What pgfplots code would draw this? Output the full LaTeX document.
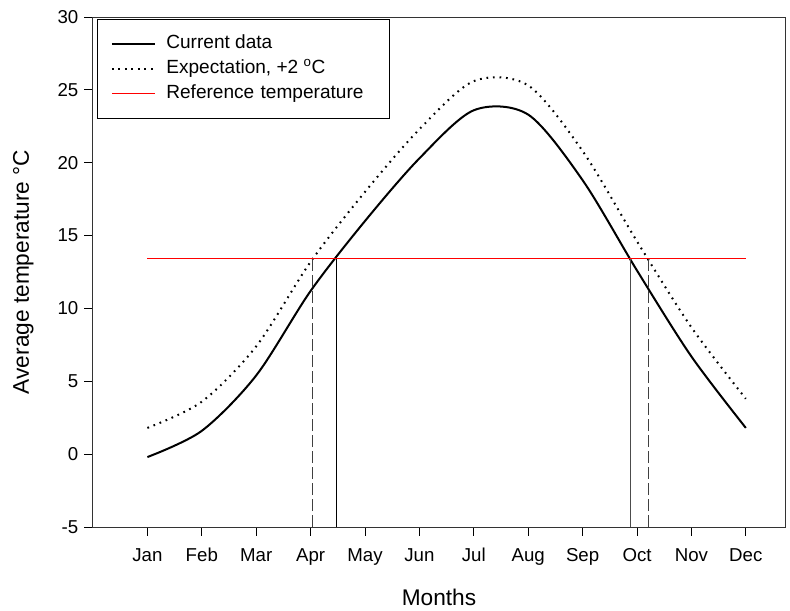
\documentclass[border=0pt]{standalone}
\usepackage{fontspec}
\setmainfont{Liberation Sans}
\usepackage{pgfplots}
\pgfplotsset{compat=1.18}
\usetikzlibrary{calc}
\begin{document}
\begin{tikzpicture}
\begin{axis}[
  name=ax,
  scale only axis,
  width=519pt, height=382.5pt,
  xmin=0, xmax=12.72,
  ymin=-5, ymax=30,
  xtick={1,2,3,4,5,6,7,8,9,10,11,12},
  xticklabels={Jan,Feb,Mar,Apr,May,Jun,Jul,Aug,Sep,Oct,Nov,Dec},
  ytick={-5,0,5,10,15,20,25,30},
  tick align=outside,
  tick pos=left,
  major tick length=6.5pt,
  tick style={black, line width=0.6pt},
  axis line style={line width=0.75pt, black!80},
  /pgf/number format/assume math mode=true,
  ticklabel style={font=\fontsize{14}{16}\selectfont},
  xticklabel style={yshift=-6pt},
  yticklabel style={xshift=-1pt},
  xlabel={Months},
  ylabel={Average temperature °C},
  label style={font=\fontsize{17}{19}\selectfont},
  xlabel style={yshift=-11pt},
  ylabel style={yshift=11pt},
  legend cell align=left,
  legend style={at={(rel axis cs:0,1)}, anchor=north west, xshift=3pt, yshift=-1.5pt,
    font=\fontsize{14.3}{16}\selectfont, draw=black, line width=0.75pt,
    inner xsep=10pt, inner ysep=11pt, row sep=3.5pt,
    nodes={inner sep=1pt, text height=10pt, text depth=3pt},
    /tikz/every odd column/.append style={column sep=7pt}},
  legend image code/.code={\draw[#1] (0cm,0cm) -- (1.13cm,0cm);},
]
\addplot[black, line width=1.5pt, smooth, tension=0.5] coordinates {
 (1,-0.2) (2,1.6) (3,5.4) (4,11.2) (5,16.0) (6,20.3) (7,23.6) (8,23.3) (9,18.8) (10,12.6) (11,6.7) (12,1.8)};
\addlegendentry{Current data}
\addplot[black, line width=1.5pt, smooth, tension=0.5, dash pattern=on 1.3pt off 3.6pt] coordinates {
 (1,1.8) (2,3.6) (3,7.4) (4,13.2) (5,18.0) (6,22.3) (7,25.6) (8,25.3) (9,20.8) (10,14.6) (11,8.7) (12,3.8)};
\addlegendentry{Expectation, +2 \textsuperscript{o}C}
\addplot[red, line width=0.9pt] coordinates {(1,13.4) (12,13.4)};
\addlegendentry[text width=156pt]{Reference temperature}
\addplot[black!75, line width=0.8pt, dash pattern=on 9pt off 3pt, forget plot] coordinates {(4.03,-5) (4.03,13.4)};
\addplot[black, line width=0.75pt, forget plot] coordinates {(4.47,-5) (4.47,13.4)};
\addplot[black!70, line width=0.8pt, forget plot] coordinates {(9.88,-5) (9.88,13.4)};
\addplot[black!75, line width=0.8pt, dash pattern=on 9pt off 3pt, forget plot] coordinates {(10.21,-5) (10.21,13.4)};
\end{axis}
\pgfresetboundingbox
\path[use as bounding box] ($(ax.south west)+(-69.75pt,-63pt)$) rectangle ($(ax.north east)+(3.75pt,12.75pt)$);
\end{tikzpicture}
\end{document}
